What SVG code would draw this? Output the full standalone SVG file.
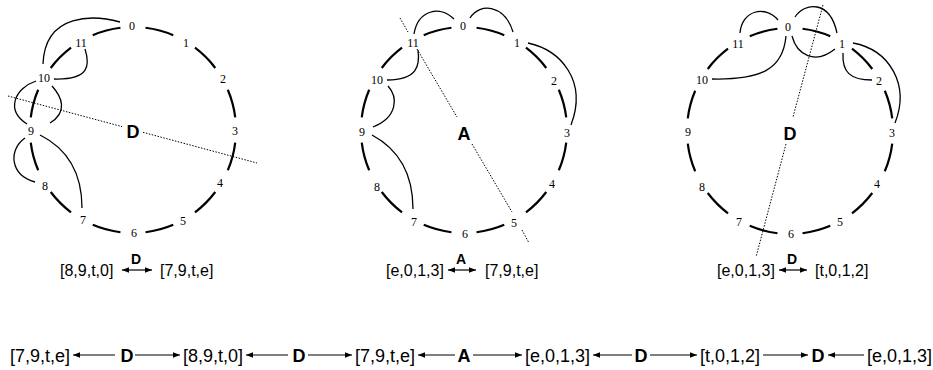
<svg xmlns="http://www.w3.org/2000/svg" xmlns:xlink="http://www.w3.org/1999/xlink" width="933" height="370" viewBox="0 0 933 370">
<style>
.seg{fill:none;stroke:#000;stroke-width:2.2}
.cur{fill:none;stroke:#000;stroke-width:1.3}
.dot{fill:none;stroke:#000;stroke-width:1;stroke-dasharray:1.5 1.5}
.n{font-family:"Liberation Serif",serif;font-size:12px;text-anchor:middle}
.big{font-family:"Liberation Sans",sans-serif;font-weight:bold;font-size:18px;text-anchor:middle}
.mid{font-family:"Liberation Sans",sans-serif;font-weight:bold;font-size:14px;text-anchor:middle}
.lab{font-family:"Liberation Sans",sans-serif;font-size:16px}
.bl{font-family:"Liberation Sans",sans-serif;font-size:18px}
.ar{fill:none;stroke:#000;stroke-width:1.2}
</style>
<defs>
<path id="seg" class="seg" d="M12.55,-102.23 A103,103 0 0 1 40.25,-94.81"/>
<marker id="ah" viewBox="0 0 10 10" refX="10" refY="5" markerWidth="8" markerHeight="7" markerUnits="userSpaceOnUse" orient="auto-start-reverse"><path d="M0,1 L10,5 L0,9z" fill="#000"/></marker>
</defs>

<g id="circle1">
<g transform="translate(133,130)">
<use xlink:href="#seg"/><use xlink:href="#seg" transform="rotate(30)"/><use xlink:href="#seg" transform="rotate(60)"/><use xlink:href="#seg" transform="rotate(90)"/><use xlink:href="#seg" transform="rotate(120)"/><use xlink:href="#seg" transform="rotate(150)"/><use xlink:href="#seg" transform="rotate(180)"/><use xlink:href="#seg" transform="rotate(210)"/><use xlink:href="#seg" transform="rotate(240)"/><use xlink:href="#seg" transform="rotate(270)"/><use xlink:href="#seg" transform="rotate(300)"/><use xlink:href="#seg" transform="rotate(330)"/>
</g>
<g class="n">
<text x="132" y="30">0</text><text x="186" y="47">1</text><text x="223" y="83">2</text><text x="235" y="135">3</text><text x="220" y="187">4</text><text x="183" y="225">5</text><text x="134" y="237">6</text><text x="83" y="224">7</text><text x="45" y="190">8</text><text x="31" y="135">9</text><text x="44" y="82">10</text><text x="81" y="47">11</text>
</g>
<text class="big" x="133" y="138">D</text>
</g>

<g id="circle2">
<g transform="translate(464,130)">
<use xlink:href="#seg"/><use xlink:href="#seg" transform="rotate(30)"/><use xlink:href="#seg" transform="rotate(60)"/><use xlink:href="#seg" transform="rotate(90)"/><use xlink:href="#seg" transform="rotate(120)"/><use xlink:href="#seg" transform="rotate(150)"/><use xlink:href="#seg" transform="rotate(180)"/><use xlink:href="#seg" transform="rotate(210)"/><use xlink:href="#seg" transform="rotate(240)"/><use xlink:href="#seg" transform="rotate(270)"/><use xlink:href="#seg" transform="rotate(300)"/><use xlink:href="#seg" transform="rotate(330)"/>
</g>
<g class="n">
<text x="463" y="30">0</text><text x="517" y="47">1</text><text x="554" y="85">2</text><text x="567" y="137">3</text><text x="552" y="188">4</text><text x="514" y="227">5</text><text x="465" y="238">6</text><text x="414" y="226">7</text><text x="377" y="191">8</text><text x="362" y="136">9</text><text x="377" y="84">10</text><text x="413" y="47">11</text>
</g>
<text class="big" x="464" y="140">A</text>
</g>

<g id="circle3">
<g transform="translate(790,131)">
<use xlink:href="#seg"/><use xlink:href="#seg" transform="rotate(30)"/><use xlink:href="#seg" transform="rotate(60)"/><use xlink:href="#seg" transform="rotate(90)"/><use xlink:href="#seg" transform="rotate(120)"/><use xlink:href="#seg" transform="rotate(150)"/><use xlink:href="#seg" transform="rotate(180)"/><use xlink:href="#seg" transform="rotate(210)"/><use xlink:href="#seg" transform="rotate(240)"/><use xlink:href="#seg" transform="rotate(270)"/><use xlink:href="#seg" transform="rotate(300)"/><use xlink:href="#seg" transform="rotate(330)"/>
</g>
<g class="n">
<text x="788" y="31">0</text><text x="842" y="48">1</text><text x="879" y="85">2</text><text x="892" y="137">3</text><text x="877" y="188">4</text><text x="840" y="226">5</text><text x="791" y="238">6</text><text x="739" y="226">7</text><text x="702" y="191">8</text><text x="688" y="136">9</text><text x="702" y="84">10</text><text x="738" y="48">11</text>
</g>
<text class="big" x="790" y="140">D</text>
</g>

<g id="connectors">
<path class="cur" d="M120,22 C95,15 45,12 43,64"/>
<path class="cur" d="M85,49 C90,65 90,80 54,79"/>
<path class="cur" d="M36,81 C15,88 5,110 27,124"/>
<path class="cur" d="M52,86 C62,97 68,112 50,123"/>
<path class="cur" d="M25,138 C8,150 10,175 35,182"/>
<path class="cur" d="M40,135 C70,150 82,175 82,208"/>
<path class="dot" d="M8,96 L122,126.6 M143,132.3 L257,163"/>

<path class="cur" d="M414,34 C418,10 440,5 454,19"/>
<path class="cur" d="M470,18 C480,2 505,5 513,32"/>
<path class="cur" d="M528,43 C560,50 588,80 571,125"/>
<path class="cur" d="M418,50 C420,65 418,80 387,80"/>
<path class="cur" d="M388,86 C398,97 398,117 373,127"/>
<path class="cur" d="M372,135 C400,150 413,175 413,209"/>
<path class="dot" d="M400,18 L408,32 M417,49 L457,117 M472,144 L512,212 M522,230 L529,243"/>

<path class="cur" d="M740,33 C742,10 765,5 778,20"/>
<path class="cur" d="M795,17 C805,2 830,0 837,33"/>
<path class="cur" d="M792,36 C797,55 815,65 835,49"/>
<path class="cur" d="M786,36 C783,70 760,80 712,79"/>
<path class="cur" d="M843,53 C842,72 850,80 872,80"/>
<path class="cur" d="M853,43 C890,50 910,85 895,123"/>
<path class="dot" d="M823,5 L793,117 M786,144 L756,257"/>

<path class="ar" d="M122,270 L152,270" marker-start="url(#ah)" marker-end="url(#ah)"/>
<path class="ar" d="M448,270 L476,270" marker-start="url(#ah)" marker-end="url(#ah)"/>
<path class="ar" d="M779,270 L807,270" marker-start="url(#ah)" marker-end="url(#ah)"/>

<path class="ar" d="M115,355 L73,355" marker-end="url(#ah)"/>
<path class="ar" d="M135,355 L180,355" marker-end="url(#ah)"/>
<path class="ar" d="M288,355 L246,355" marker-end="url(#ah)"/>
<path class="ar" d="M308,355 L352,355" marker-end="url(#ah)"/>
<path class="ar" d="M455,355 L418,355" marker-end="url(#ah)"/>
<path class="ar" d="M473,355 L522,355" marker-end="url(#ah)"/>
<path class="ar" d="M632,355 L593,355" marker-end="url(#ah)"/>
<path class="ar" d="M650,355 L697,355" marker-end="url(#ah)"/>
<path class="ar" d="M763,355 L808,355" marker-end="url(#ah)"/>
<path class="ar" d="M864,355 L828,355" marker-end="url(#ah)"/>
</g>

<g id="labels">
<text class="lab" x="60" y="276">[8,9,t,0]</text>
<text class="mid" x="136" y="264">D</text>
<text class="lab" x="160" y="276">[7,9,t,e]</text>
<text class="lab" x="386" y="276">[e,0,1,3]</text>
<text class="mid" x="461" y="264">A</text>
<text class="lab" x="485" y="276">[7,9,t,e]</text>
<text class="lab" x="717" y="276">[e,0,1,3]</text>
<text class="mid" x="792" y="264">D</text>
<text class="lab" x="815" y="276">[t,0,1,2]</text>
</g>

<g id="chain">
<text class="bl" x="10" y="362">[7,9,t,e]</text>
<text class="big" x="127" y="362">D</text>
<text class="bl" x="183" y="362">[8,9,t,0]</text>
<text class="big" x="299" y="362">D</text>
<text class="bl" x="355" y="362">[7,9,t,e]</text>
<text class="big" x="464" y="362">A</text>
<text class="bl" x="525" y="362">[e,0,1,3]</text>
<text class="big" x="641" y="362">D</text>
<text class="bl" x="700" y="362">[t,0,1,2]</text>
<text class="big" x="818" y="362">D</text>
<text class="bl" x="932" y="362" text-anchor="end">[e,0,1,3]</text>
</g>
</svg>
